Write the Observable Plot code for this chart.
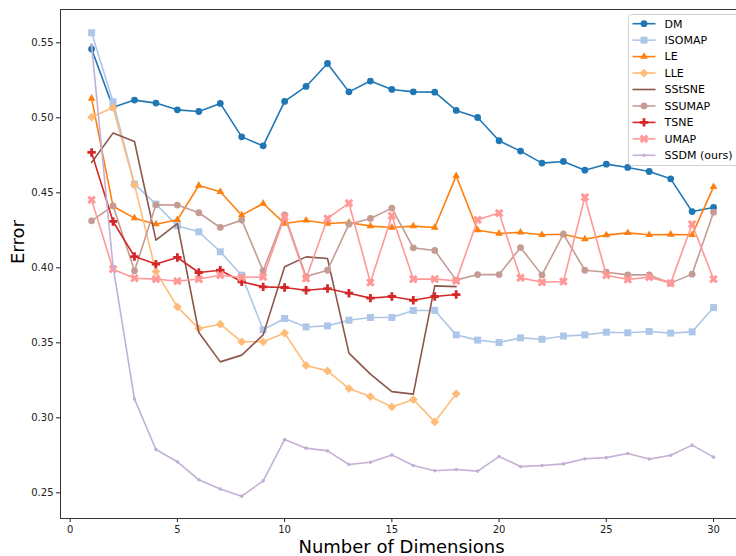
<!DOCTYPE html>
<html><head><meta charset="utf-8">
<script src="https://cdn.jsdelivr.net/npm/d3@7"></script>
<script src="https://cdn.jsdelivr.net/npm/@observablehq/plot@0.6"></script>
<style>
body{margin:0;background:#fff;}
#chart{width:736px;height:556px;}
</style>
</head><body><div id="chart"></div>
<script>
// ---- data ----
const methods = ["DM","ISOMAP","LE","LLE","SStSNE","SSUMAP","TSNE","UMAP","SSDM (ours)"];
const DM = [0.5458,0.507,0.5118,0.5098,0.5053,0.5042,0.5096,0.4873,0.4813,0.5109,0.5209,0.5362,0.5173,0.5245,0.5189,0.5173,0.5171,0.5049,0.5002,0.4847,0.4778,0.4698,0.4709,0.4651,0.4691,0.4669,0.4642,0.4593,0.4375,0.4402];
const ISOMAP = [0.5567,0.5107,0.4558,0.4425,0.428,0.424,0.4107,0.3951,0.3587,0.3662,0.3606,0.3613,0.3651,0.3669,0.3669,0.3716,0.3716,0.3553,0.3518,0.3502,0.3533,0.3524,0.3545,0.3553,0.3571,0.3567,0.3576,0.3565,0.3573,0.3735];
const LE = [0.5129,0.441,0.4331,0.4291,0.432,0.4549,0.4507,0.4351,0.4429,0.4295,0.4316,0.4295,0.4302,0.4278,0.4269,0.4278,0.4269,0.4613,0.4251,0.4229,0.4236,0.422,0.4224,0.4191,0.4218,0.4233,0.422,0.4222,0.422,0.454];
const LLE = [0.5004,0.5069,0.4553,0.3975,0.374,0.3595,0.3624,0.3507,0.3507,0.3565,0.3349,0.3313,0.3195,0.3142,0.3073,0.3122,0.2973,0.316];
const SStSNE = [0.4702,0.4898,0.4842,0.4185,0.4295,0.3569,0.3373,0.3418,0.3553,0.4007,0.4073,0.4062,0.3431,0.3291,0.3175,0.3158,0.388,0.3875];
const SSUMAP = [0.4313,0.4413,0.398,0.442,0.4418,0.4367,0.4269,0.4318,0.398,0.4353,0.3942,0.3984,0.4291,0.4329,0.4398,0.4133,0.4116,0.3918,0.3955,0.3955,0.4135,0.3953,0.4224,0.3984,0.3971,0.3953,0.3953,0.3898,0.3958,0.4371];
const TSNE = [0.4769,0.4309,0.4075,0.4025,0.4069,0.3969,0.3984,0.3907,0.3873,0.3869,0.3851,0.3862,0.3831,0.3798,0.3809,0.3784,0.3809,0.3822];
const UMAP = [0.4453,0.3991,0.3931,0.3925,0.3911,0.3925,0.3951,0.3936,0.394,0.434,0.3929,0.4329,0.4431,0.3902,0.4347,0.3925,0.3925,0.3913,0.432,0.4365,0.3933,0.3904,0.3909,0.4471,0.3951,0.3922,0.3938,0.3898,0.4291,0.3925];
const SSDM = [0.5485,0.401,0.3125,0.2789,0.2707,0.2587,0.2525,0.2478,0.258,0.2855,0.2798,0.278,0.2689,0.2704,0.2753,0.2682,0.2647,0.2656,0.2645,0.2742,0.2675,0.2682,0.2693,0.2727,0.2735,0.2762,0.2725,0.2751,0.2818,0.2738];
const seriesValues = [DM, ISOMAP, LE, LLE, SStSNE, SSUMAP, TSNE, UMAP, SSDM];
const xTicks = [0,5,10,15,20,25,30];
const yTicks = [0.25,0.30,0.35,0.40,0.45,0.50,0.55];

// ---- styles ----
const colors = ["#1f77b4","#aec7e8","#ff7f0e","#ffbb78","#8c564b","#c49c94","#d62728","#ff9896","#c5b0d5"];
// custom symbols: size = PI*h^2, h = half extent in px
const half = size => Math.sqrt(size / Math.PI);
const symSquare = {draw(c, s){const h=half(s); c.rect(-h,-h,2*h,2*h);}};
const symTri = {draw(c, s){const R=half(s); const a=R*Math.cos(Math.PI/6); c.moveTo(0,-R); c.lineTo(a,R/2); c.lineTo(-a,R/2); c.closePath();}};
const symDiamond = {draw(c, s){const h=half(s); c.moveTo(0,-h); c.lineTo(h,0); c.lineTo(0,h); c.lineTo(-h,0); c.closePath();}};
function plusPts(h){const a=h/3; return [[-h,-a],[-a,-a],[-a,-h],[a,-h],[a,-a],[h,-a],[h,a],[a,a],[a,h],[-a,h],[-a,a],[-h,a]];}
const symPlus = {draw(c, s){const p=plusPts(half(s)); c.moveTo(...p[0]); p.slice(1).forEach(q=>c.lineTo(...q)); c.closePath();}};
const symX = {draw(c, s){const k=Math.SQRT1_2; const p=plusPts(half(s)).map(([x,y])=>[(x-y)*k,(x+y)*k]); c.moveTo(...p[0]); p.slice(1).forEach(q=>c.lineTo(...q)); c.closePath();}};
const symbols = ["circle", symSquare, symTri, symDiamond, null, "circle", symPlus, symX, "circle"];
const radii = [3.4, 3.5, 4.4, 4.4, 0, 3.4, 4.2, 4.6, 1.8];

const series = methods.map((name, i) => ({
  name, color: colors[i], symbol: symbols[i], r: radii[i],
  rows: seriesValues[i].map((v, j) => ({dim: j + 1, error: v, method: name}))
}));

const marks = [];
for (const s of series) {
  marks.push(Plot.line(s.rows, {x: "dim", y: "error", stroke: s.color, strokeWidth: 1.6}));
  if (s.symbol) marks.push(Plot.dot(s.rows, {x: "dim", y: "error", fill: s.color, r: s.r, symbol: s.symbol, stroke: "none"}));
}

const yMin = 0.2329, yMax = 0.5722, xMin = -0.45;
const chart = Plot.plot({
  width: 736, height: 556,
  marginLeft: 60, marginRight: 0, marginTop: 9, marginBottom: 38,
  x: {domain: [xMin, 31.07]},
  y: {domain: [yMin, yMax]},
  style: {fontFamily: "DejaVu Sans", fontSize: "10px", background: "#fff", color: "#222"},
  marks: [
    Plot.axisX({ticks: xTicks, tickSize: 4, tickPadding: 3, label: null}),
    Plot.axisY({ticks: yTicks, tickSize: 4, tickPadding: 3, tickFormat: ".2f", label: null}),
    ...marks,
    Plot.ruleX([xMin], {stroke: "#333", strokeWidth: 1}),
    Plot.ruleY([yMin, yMax], {stroke: "#333", strokeWidth: 1}),
    Plot.text(["Number of Dimensions"], {text: d => d, frameAnchor: "bottom", dy: 34, dx: 3, fontSize: 18, fill: "#000"}),
    Plot.text(["Error"], {text: d => d, frameAnchor: "left", dx: -42, rotate: -90, fontSize: 18, fill: "#000"})
  ]
});
document.getElementById("chart").appendChild(chart);

// ---- legend ----
const svg = d3.select(chart);
const lg = svg.append("g").attr("font-family", "DejaVu Sans").attr("font-size", 11).attr("text-anchor", "start");
lg.append("rect").attr("x", 628.5).attr("y", 14.5).attr("width", 120).attr("height", 151)
  .attr("rx", 3).attr("fill", "#fff").attr("fill-opacity", 0.8).attr("stroke", "#d0d0d0");
series.forEach((s, i) => {
  const y = 23.7 + i * 16.45;
  lg.append("line").attr("x1", 632.5).attr("x2", 655.5).attr("y1", y).attr("y2", y)
    .attr("stroke", s.color).attr("stroke-width", 1.6);
  if (s.symbol) {
    const t = s.symbol === "circle" ? d3.symbolCircle : s.symbol;
    lg.append("path").attr("transform", `translate(644,${y})`)
      .attr("d", d3.symbol(t, Math.PI * s.r * s.r)()).attr("fill", s.color);
  }
  lg.append("text").attr("x", 664.5).attr("y", y).attr("dy", "0.35em").attr("fill", "#000")
    .attr("text-anchor", "start").text(s.name);
});
</script>
</body></html>
